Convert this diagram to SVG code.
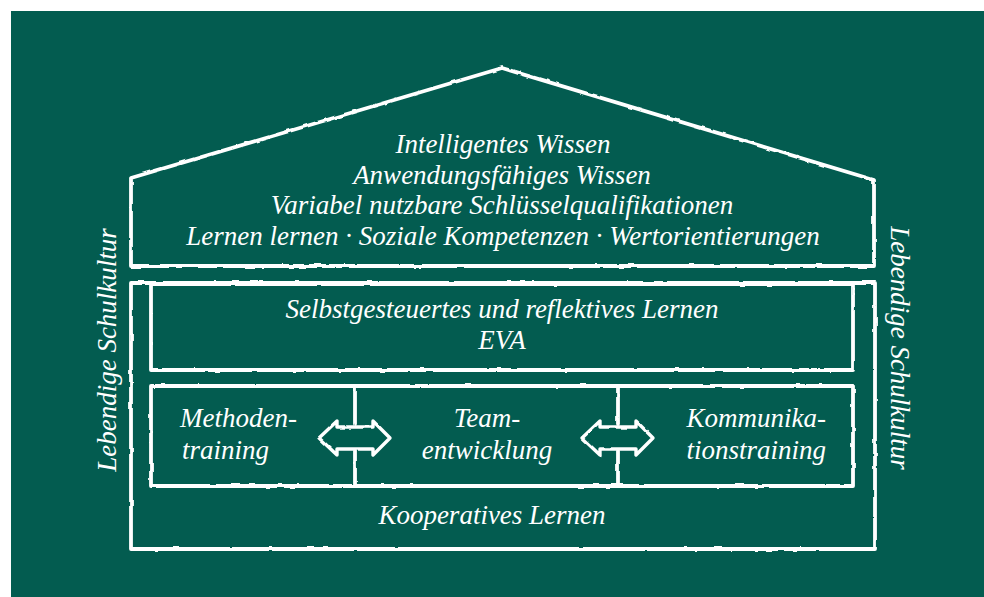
<svg xmlns="http://www.w3.org/2000/svg" width="984" height="597" viewBox="0 0 984 597">
<defs>
<style>
.bg{fill:#035c50}
.ln{fill:none;stroke:#fff;stroke-width:3.8;stroke-linejoin:round;stroke-linecap:round}
.ar{fill:#035c50;stroke:#fff;stroke-width:3.4;stroke-linejoin:round}
.t{font-family:"Liberation Serif","Times New Roman",serif;font-style:italic;font-size:27px;fill:#fff}
.c{text-anchor:middle}
</style>
<filter id="chalk" x="-5%" y="-5%" width="110%" height="110%">
<feTurbulence type="fractalNoise" baseFrequency="0.08" numOctaves="2" seed="3" result="n"/>
<feDisplacementMap in="SourceGraphic" in2="n" scale="2.5" xChannelSelector="R" yChannelSelector="G"/>
</filter>
</defs>
<rect class="bg" x="11" y="11" width="973" height="586"/>
<g id="connectors" filter="url(#chalk)">
<line class="ln" x1="355" y1="386" x2="355" y2="424"/>
<line class="ln" x1="355" y1="451" x2="355" y2="485"/>
<line class="ln" x1="618" y1="386" x2="618" y2="424"/>
<line class="ln" x1="618" y1="451" x2="618" y2="485"/>
<path id="arrow1" class="ar" d="M319,438 L337,421 L337,427 L373,427 L373,421 L390,438 L373,455 L373,449 L337,449 L337,455 Z"/>
<path id="arrow2" class="ar" d="M582,438 L600,421 L600,427 L636,427 L636,421 L653,438 L636,455 L636,449 L600,449 L600,455 Z"/>
</g>
<g id="roof">
<path class="ln" filter="url(#chalk)" d="M131,266 L131,178 L502,68 L874,180 L874,266 Z"/>
<text class="t c" x="503" y="153">Intelligentes Wissen</text>
<text class="t c" x="502" y="184">Anwendungsfähiges Wissen</text>
<text class="t c" x="502" y="214">Variabel nutzbare Schlüsselqualifikationen</text>
<text class="t c" x="503" y="245">Lernen lernen · Soziale Kompetenzen · Wertorientierungen</text>
</g>
<g id="kooperatives">
<rect class="ln" filter="url(#chalk)" x="131" y="283" width="744" height="266"/>
<text class="t c" x="492" y="524">Kooperatives Lernen</text>
</g>
<g id="selbstgesteuert">
<rect class="ln" filter="url(#chalk)" x="151" y="284" width="702" height="86"/>
<text class="t c" x="502" y="318">Selbstgesteuertes und reflektives Lernen</text>
<text class="t c" x="502" y="349">EVA</text>
</g>
<g id="methoden">
<rect class="ln" x="151" y="386" width="702" height="100" filter="url(#chalk)"/>
<text class="t" x="180" y="427">Methoden-</text>
<text class="t" x="182" y="459">training</text>
</g>
<g id="team">
<text class="t c" x="487" y="427">Team-</text>
<text class="t c" x="487" y="459">entwicklung</text>
</g>
<g id="kommunikation">
<text class="t" x="826" y="427" text-anchor="end">Kommunika-</text>
<text class="t" x="826" y="459" text-anchor="end">tionstraining</text>
</g>
<g id="schulkultur-left">
<text class="t c" transform="translate(116,350) rotate(-90)">Lebendige Schulkultur</text>
</g>
<g id="schulkultur-right">
<text class="t c" transform="translate(891,348) rotate(90)">Lebendige Schulkultur</text>
</g>
</svg>
